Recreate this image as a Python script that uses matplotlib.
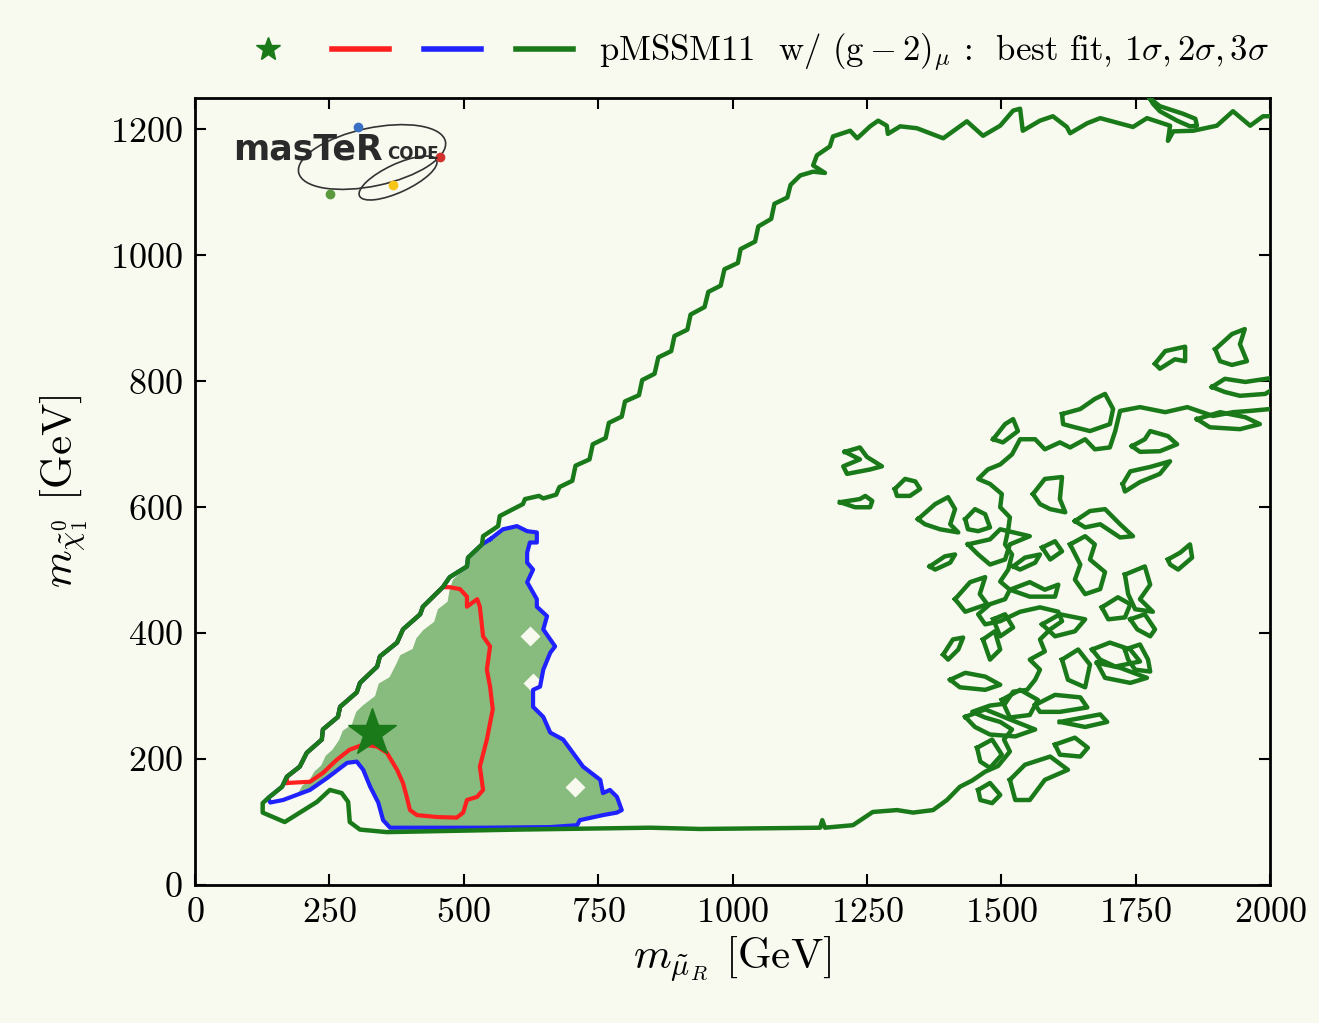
import matplotlib.pyplot as plt
from matplotlib.lines import Line2D
from matplotlib.patches import Ellipse, Polygon

plt.rcParams['font.family'] = 'serif'
plt.rcParams['font.serif'] = ['cmr10']
plt.rcParams['mathtext.fontset'] = 'cm'
plt.rcParams['axes.formatter.use_mathtext'] = True

BG = '#f8faf0'
GREEN = '#1a7a1a'
RED = '#ff1f1f'
BLUE = '#1f22ff'
FILL = '#88bb7e'

# 3 sigma main contour (m_muR, m_chi10) in GeV
sig3_x = [2000, 1987, 1963, 1931, 1901, 1857, 1820, 1810, 1814, 1771, 1745, 1684, 1660, 1628, 1622, 1596,
          1572, 1540, 1535, 1522, 1498, 1466, 1436, 1392, 1343, 1312, 1289, 1287, 1271, 1256, 1232, 1219,
          1187, 1181, 1157, 1150, 1172, 1150, 1126,
          1108, 1102, 1078, 1072, 1048, 1042, 1015, 1010, 985, 978, 955, 948, 922, 916, 892, 886, 862, 855,
          832, 826, 800, 794, 770, 764, 740, 734, 708, 702, 678, 672, 648, 640, 614,
          610, 567, 564, 536, 534, 508, 506, 474, 461, 424, 419, 387, 376, 344, 339, 307, 301, 270, 266,
          238, 236, 208, 195, 171, 162, 136, 126, 126, 167, 227, 251, 273, 285, 288, 307, 357, 600, 847,
          940, 1163, 1167, 1172, 1224, 1261, 1306, 1336, 1373, 1399, 1423,
          1446, 1470, 1494, 1516, 1505, 1520, 1498, 1470, 1446, 1479, 1507, 1522, 1548, 1563, 1572, 1553,
          1581, 1572, 1591, 1613, 1606, 1572, 1535, 1498, 1470, 1457, 1479, 1507, 1516, 1498, 1513, 1520,
          1507, 1513, 1516, 1498, 1501, 1479, 1457, 1475, 1498, 1520, 1535, 1563, 1581, 1609, 1628, 1656,
          1674, 1702, 1712, 1721, 1758, 1805, 1846, 1894, 1931, 1963, 2000]
sig3_y = [1221, 1221, 1206, 1229, 1206, 1198, 1197, 1182, 1206, 1218, 1204, 1218, 1210, 1194, 1204, 1221,
          1214, 1198, 1233, 1230, 1206, 1190, 1213, 1186, 1202, 1205, 1193, 1206, 1214, 1205, 1186, 1198,
          1189, 1173, 1159, 1143, 1131, 1133, 1127,
          1112, 1092, 1082, 1058, 1046, 1022, 1010, 988, 978, 952, 942, 918, 906, 882, 872, 848, 838, 812,
          802, 778, 768, 744, 734, 710, 700, 676, 666, 642, 632, 620, 614, 618, 613,
          605, 586, 570, 554, 541, 520, 506, 489, 473, 442, 430, 406, 385, 363, 347, 321, 306, 283, 267,
          247, 231, 210, 188, 172, 156, 138, 130, 115, 100, 132, 151, 146, 132, 100, 88, 84, 88, 91,
          89, 91, 103, 91, 95, 116, 119, 115, 119, 135, 156,
          166, 180, 189, 212, 231, 247, 259, 266, 275, 285, 288, 307, 310, 326, 342, 358,
          371, 390, 406, 419, 434, 441, 434, 419, 414, 430, 446, 454, 469, 482, 501, 525,
          541, 565, 584, 600, 621, 637, 645, 660, 668, 684, 708, 708, 692, 703, 695, 708,
          692, 695, 721, 753, 759, 751, 759, 745, 751, 753, 756]

# isolated 3 sigma islands at large m_muR
island_x = [[1209, 1237, 1250, 1278, 1256, 1213, 1206, 1237],
            [1200, 1237, 1247, 1260, 1256, 1228],
            [1302, 1321, 1340, 1349, 1330, 1306],
            [1345, 1377, 1401, 1414, 1405, 1420, 1386, 1358],
            [1433, 1451, 1470, 1479, 1457, 1438],
            [1485, 1507, 1522, 1531, 1503],
            [1613, 1647, 1674, 1693, 1708, 1702, 1665, 1637, 1615],
            [1743, 1767, 1777, 1810, 1827, 1795, 1758],
            [1726, 1740, 1777, 1814, 1795, 1758, 1730],
            [1559, 1581, 1613, 1609, 1619, 1591, 1572],
            [1637, 1665, 1693, 1721, 1745, 1721, 1684, 1656],
            [1810, 1833, 1851, 1855, 1829, 1814],
            [1786, 1805, 1842, 1842, 1823, 1795],
            [1898, 1929, 1953, 1944, 1957, 1929, 1907],
            [1892, 1916, 1954, 2000, 2010, 1991, 1944, 1916],
            [1864, 1907, 1954, 1981, 1944, 1888],
            [1367, 1395, 1414, 1405, 1377],
            [1438, 1479, 1498, 1553, 1516, 1507, 1479, 1457],
            [1522, 1544, 1572, 1563, 1535],
            [1628, 1656, 1674, 1665, 1693, 1684, 1656, 1637, 1647],
            [1414, 1442, 1470, 1460, 1474, 1433],
            [1730, 1767, 1777, 1758, 1782, 1749, 1736],
            [1740, 1767, 1786, 1777, 1753],
            [1730, 1758, 1773, 1777, 1749, 1736],
            [1516, 1553, 1581, 1606, 1600, 1553],
            [1669, 1702, 1740, 1758, 1712, 1684],
            [1405, 1433, 1470, 1498, 1470, 1423],
            [1433, 1470, 1516, 1563, 1526, 1479, 1451],
            [1563, 1600, 1647, 1660, 1609, 1572],
            [1600, 1637, 1661, 1647, 1609],
            [1609, 1684, 1697, 1656],
            [1516, 1544, 1591, 1624, 1581, 1553, 1526],
            [1457, 1479, 1498, 1483, 1461],
            [1485, 1507, 1522, 1498],
            [1576, 1609, 1656, 1637, 1600],
            [1678, 1721, 1771, 1740, 1693],
            [1392, 1410, 1429, 1420, 1401],
            [1687, 1717, 1740, 1730, 1699],
            [1501, 1535, 1568, 1553, 1516],
            [1613, 1643, 1665, 1656, 1624],
            [1455, 1483, 1501, 1479, 1461],
            [1576, 1600, 1613, 1591],
            [1466, 1488, 1498, 1479],
            [1777, 1795, 1838, 1861, 1864, 1851, 1827, 1795, 1782, 1770]]
island_y = [[688, 695, 680, 665, 660, 653, 665, 676],
            [608, 613, 618, 610, 600, 600],
            [629, 645, 641, 629, 618, 618],
            [581, 605, 616, 597, 573, 560, 565, 573],
            [581, 597, 589, 568, 562, 565],
            [708, 732, 740, 721, 703],
            [748, 756, 772, 780, 756, 732, 721, 727, 732],
            [697, 708, 721, 713, 700, 689, 688],
            [637, 657, 664, 673, 653, 640, 625],
            [621, 645, 648, 613, 592, 597, 605],
            [578, 594, 597, 573, 554, 552, 573, 568],
            [517, 528, 541, 520, 501, 509],
            [828, 848, 855, 832, 835, 820],
            [851, 875, 883, 859, 832, 826, 832],
            [791, 804, 799, 805, 790, 780, 777, 783],
            [740, 751, 743, 732, 724, 727],
            [506, 522, 525, 512, 501],
            [541, 549, 565, 554, 541, 517, 509, 525],
            [506, 520, 525, 512, 501],
            [541, 554, 541, 517, 497, 470, 462, 485, 509],
            [454, 481, 489, 462, 446, 434],
            [493, 506, 477, 454, 434, 438, 462],
            [422, 430, 406, 395, 406],
            [374, 382, 358, 339, 342, 358],
            [469, 481, 469, 477, 458, 458],
            [374, 385, 374, 355, 347, 358],
            [326, 337, 331, 318, 310, 314],
            [267, 279, 263, 247, 236, 239, 251],
            [286, 302, 298, 282, 275, 275],
            [223, 234, 218, 204, 207],
            [259, 271, 259, 251],
            [167, 191, 204, 183, 167, 135, 135],
            [151, 162, 143, 130, 135],
            [422, 430, 409, 395],
            [414, 430, 422, 403, 395],
            [353, 345, 329, 321, 329],
            [366, 390, 393, 374, 358],
            [441, 457, 446, 425, 422],
            [294, 310, 294, 270, 266],
            [358, 374, 350, 314, 326],
            [218, 231, 207, 186, 196],
            [536, 546, 530, 517],
            [390, 403, 374, 358],
            [1249, 1237, 1225, 1217, 1206, 1205, 1214, 1229, 1241, 1260]]

# 2 sigma contour
sig2_x = [549, 573, 599, 618, 636, 636, 623, 618, 618, 629, 618, 636, 636, 655, 648, 661, 670, 661, 648,
          642, 629, 629, 648, 661, 685, 722, 754, 759, 772, 785, 794, 785, 759, 716, 711, 661, 536, 413,
          363, 350, 341, 326, 313, 301, 283, 246, 214, 164, 140,
          136, 162, 171, 195, 208, 236, 238, 266, 270, 301, 307, 339, 344, 376, 387, 419, 424, 461, 474,
          506, 508, 534, 549]
sig2_y = [549, 565, 570, 562, 560, 544, 544, 528, 512, 501, 481, 454, 442, 427, 406, 390, 379, 369, 342,
          315, 310, 283, 267, 242, 231, 188, 167, 146, 151, 140, 119, 115, 111, 103, 95, 92, 91, 91,
          91, 103, 131, 156, 183, 196, 194, 170, 151, 135, 131,
          138, 156, 172, 188, 210, 231, 247, 267, 283, 306, 321, 347, 363, 385, 406, 430, 442, 473, 489,
          506, 520, 541, 549]

# filled 2 sigma area
fill_x = [549, 573, 599, 618, 636, 636, 623, 618, 618, 629, 618, 636, 636, 655, 648, 661, 670, 661, 648,
          642, 629, 629, 648, 661, 685, 722, 754, 759, 772, 785, 794, 785, 759, 716, 711, 661, 536, 413,
          363, 350, 341, 326, 313, 301, 283, 246, 214, 190, 200, 212, 222, 235, 243, 256, 268, 275, 292,
          300, 312, 335, 342, 362, 374, 382, 405, 412, 425, 445, 452, 470, 474, 480, 506, 508, 534]
fill_y = [549, 565, 570, 562, 560, 544, 544, 528, 512, 501, 481, 454, 442, 427, 406, 390, 379, 369, 342,
          315, 310, 283, 267, 242, 231, 188, 167, 146, 151, 140, 119, 115, 111, 103, 95, 92, 91, 91,
          91, 103, 131, 156, 183, 196, 194, 170, 151, 143, 158, 165, 180, 190, 205, 215, 230, 245, 255,
          275, 285, 300, 320, 330, 350, 365, 375, 392, 405, 418, 438, 450, 470, 485, 506, 520, 541]
hole_x = [623, 629, 707]
hole_y = [395, 321, 156]

# 1 sigma contour
sig1_x = [171, 214, 238, 264, 288, 313, 339, 357, 376, 387, 394, 400, 413, 450, 487, 499, 506, 525, 536,
          530, 543, 554, 549, 543, 549, 536, 530, 525, 506, 506, 493, 474,
          461, 424, 419, 387, 376, 344, 339, 307, 301, 270, 266, 238, 236, 208, 195, 171, 171]
sig1_y = [162, 164, 178, 199, 215, 223, 220, 210, 183, 162, 140, 119, 111, 108, 107, 115, 135, 140, 151,
          188, 231, 279, 315, 342, 379, 395, 442, 454, 442, 458, 470, 473,
          473, 442, 430, 406, 385, 363, 347, 321, 306, 283, 267, 247, 231, 210, 188, 172, 162]

best_x = [329]
best_y = [242]

fig = plt.figure(figsize=(13.19, 10.23), dpi=100, facecolor=BG)
ax = fig.add_axes([0.1478, 0.1349, 0.8151, 0.7693], facecolor=BG)

ax.add_patch(Polygon(list(zip(fill_x, fill_y)), closed=True, facecolor=FILL, edgecolor='none', zorder=1))
ax.plot(hole_x, hole_y, ls='none', marker='D', ms=10, color=BG, mec='none', zorder=2)
ax.plot(sig1_x, sig1_y, color=RED, lw=3, zorder=3, solid_joinstyle='round')
ax.plot(sig2_x, sig2_y, color=BLUE, lw=3, zorder=3, solid_joinstyle='round')
ax.plot(sig3_x, sig3_y, color=GREEN, lw=3.2, zorder=4, solid_joinstyle='round')
for xs, ys in zip(island_x, island_y):
    ax.plot(xs + xs[:1], ys + ys[:1], color=GREEN, lw=3.2, zorder=4, solid_joinstyle='round')
ax.plot(best_x, best_y, ls='none', marker='*', ms=36, color=GREEN, zorder=5)

ax.set_xlim(0, 2000)
ax.set_ylim(0, 1250)
ax.set_xticks([0, 250, 500, 750, 1000, 1250, 1500, 1750, 2000])
ax.set_yticks([0, 200, 400, 600, 800, 1000, 1200])
ax.tick_params(direction='in', top=True, right=True, length=8, width=1.5, labelsize=26, pad=9)
for s in ax.spines.values():
    s.set_linewidth(2)
ax.set_xlabel(r'$m_{\tilde{\mu}_R}$ [GeV]', fontsize=31, labelpad=4)
ax.set_ylabel(r'$m_{\tilde{\chi}^0_1}$ [GeV]', fontsize=31, labelpad=14)

handles = [Line2D([], [], marker='*', ms=18, ls='none', color=GREEN),
           Line2D([], [], color=RED, lw=4),
           Line2D([], [], color=BLUE, lw=4),
           Line2D([], [], color=GREEN, lw=4)]
labels = ['', '', '', r'pMSSM11  w/ $(\mathrm{g}-2)_{\mu}$ :  best fit, $1\sigma, 2\sigma, 3\sigma$']
ax.legend(handles, labels, ncol=4, loc='lower right', bbox_to_anchor=(1.025, 0.995), frameon=False,
          fontsize=25, handlelength=1.65, handletextpad=0.75, columnspacing=0.25, borderpad=0.3)

# MasterCode logo
lax = fig.add_axes([0.1706, 0.7996, 0.1744, 0.0909])
lax.set_xlim(0, 230)
lax.set_ylim(0, 93)
lax.axis('off')
lax.add_patch(Ellipse((147, 48), 150, 58, angle=12, fill=False, lw=1.2, color='#333333'))
lax.add_patch(Ellipse((173, 27), 85, 28, angle=25, fill=False, lw=1.2, color='#333333'))
lax.text(8, 46, 'masTeR', fontsize=25, fontweight='bold', family='DejaVu Sans', color='#2a2a2a')
lax.text(162, 46, 'CODE', fontsize=12, fontweight='bold', family='DejaVu Sans', color='#2a2a2a')
for px, py, c in [(133, 78, '#3a6fc4'), (215, 48, '#d0312d'), (105, 11, '#5a9a3c'), (168, 20, '#f5c518')]:
    lax.plot(px, py, 'o', ms=6, color=c)

fig.savefig('out.png', dpi=100, facecolor=BG)
